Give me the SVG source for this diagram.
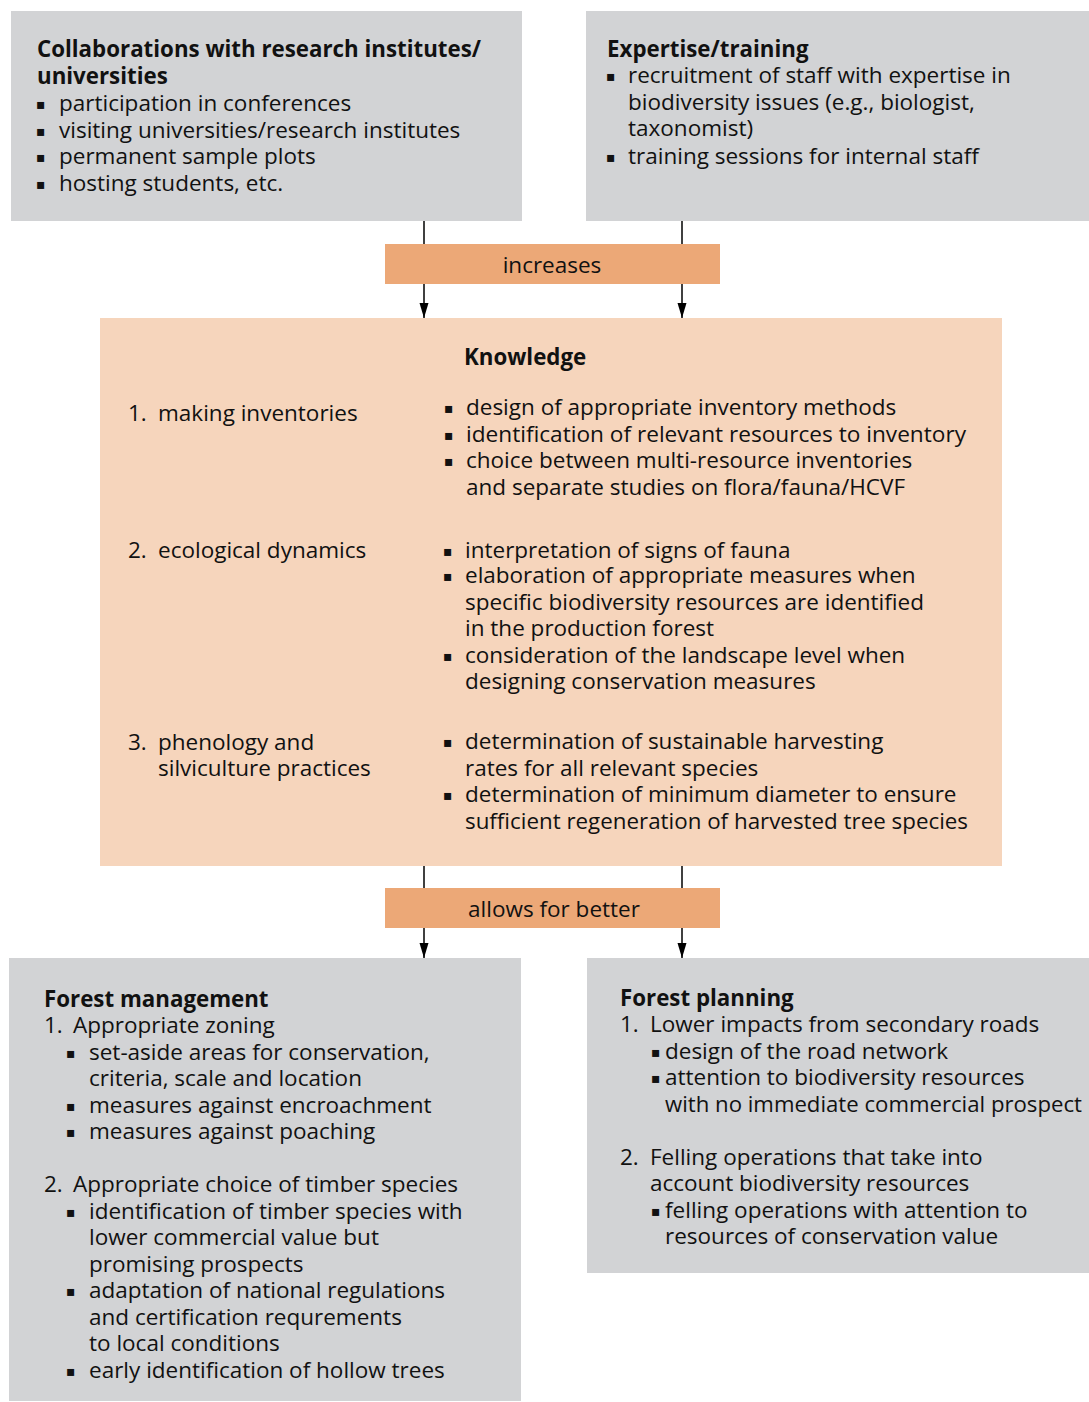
<svg xmlns="http://www.w3.org/2000/svg" width="1089" height="1402" viewBox="0 0 1089 1402">
<style>
.t{font-family:"Open Sans","Noto Sans","DejaVu Sans",sans-serif;font-size:22.5px;fill:#111}
.b{font-weight:bold;font-size:22.3px}
.bl{font-family:"DejaVu Sans",sans-serif;font-size:14px;fill:#111}
.gray{fill:#d2d3d5}
.know{fill:#f6d5bc}
.lab{fill:#eca877}
.c{stroke:#000;stroke-width:1.5;fill:none}
</style>
<defs>
<marker id="ah" viewBox="0 0 15 10" refX="15" refY="5" markerWidth="15" markerHeight="10" markerUnits="userSpaceOnUse" orient="auto">
<path d="M0,0.5 L15,5 L0,9.5 Z" fill="#000"/>
</marker>
</defs>

<g id="collab">
<rect class="gray" x="11" y="11" width="511" height="210"/>
<text class="t b" x="37" y="57">Collaborations with research institutes/</text>
<text class="t b" x="37" y="84">universities</text>
<text class="bl" x="36" y="109">▪</text><text class="t" x="59" y="111">participation in conferences</text>
<text class="bl" x="36" y="136">▪</text><text class="t" x="59" y="138">visiting universities/research institutes</text>
<text class="bl" x="36" y="162">▪</text><text class="t" x="59" y="164">permanent sample plots</text>
<text class="bl" x="36" y="189">▪</text><text class="t" x="59" y="191">hosting students, etc.</text>
</g>

<g id="expertise">
<rect class="gray" x="586" y="11" width="503" height="210"/>
<text class="t b" x="607" y="57">Expertise/training</text>
<text class="bl" x="606" y="81">▪</text><text class="t" x="628" y="83">recruitment of staff with expertise in</text>
<text class="t" x="628" y="110">biodiversity issues (e.g., biologist,</text>
<text class="t" x="628" y="136">taxonomist)</text>
<text class="bl" x="606" y="162">▪</text><text class="t" x="628" y="164">training sessions for internal staff</text>
</g>

<g id="connectors">
<line class="c" x1="424" y1="221" x2="424" y2="244"/>
<line class="c" x1="682" y1="221" x2="682" y2="244"/>
<line class="c" x1="424" y1="284" x2="424" y2="318" marker-end="url(#ah)"/>
<line class="c" x1="682" y1="284" x2="682" y2="318" marker-end="url(#ah)"/>
<line class="c" x1="424" y1="866" x2="424" y2="888"/>
<line class="c" x1="682" y1="866" x2="682" y2="888"/>
<line class="c" x1="424" y1="928" x2="424" y2="958" marker-end="url(#ah)"/>
<line class="c" x1="682" y1="928" x2="682" y2="958" marker-end="url(#ah)"/>
</g>

<g id="label-increases">
<rect class="lab" x="385" y="244" width="335" height="40"/>
<text class="t" x="552" y="273" text-anchor="middle">increases</text>
</g>

<g id="knowledge">
<rect class="know" x="100" y="318" width="902" height="548"/>
<text class="t b" x="464" y="365">Knowledge</text>
<text class="t" x="128" y="421">1.</text><text class="t" x="158" y="421">making inventories</text>
<text class="bl" x="444" y="413">▪</text><text class="t" x="466" y="415">design of appropriate inventory methods</text>
<text class="bl" x="444" y="440">▪</text><text class="t" x="466" y="442" textLength="500" lengthAdjust="spacingAndGlyphs">identification of relevant resources to inventory</text>
<text class="bl" x="444" y="466">▪</text><text class="t" x="466" y="468">choice between multi-resource inventories</text>
<text class="t" x="466" y="495">and separate studies on flora/fauna/HCVF</text>

<text class="t" x="128" y="558">2.</text><text class="t" x="158" y="558">ecological dynamics</text>
<text class="bl" x="443" y="556">▪</text><text class="t" x="465" y="558">interpretation of signs of fauna</text>
<text class="bl" x="443" y="581">▪</text><text class="t" x="465" y="583">elaboration of appropriate measures when</text>
<text class="t" x="465" y="610">specific biodiversity resources are identified</text>
<text class="t" x="465" y="636">in the production forest</text>
<text class="bl" x="443" y="661">▪</text><text class="t" x="465" y="663">consideration of the landscape level when</text>
<text class="t" x="465" y="689">designing conservation measures</text>

<text class="t" x="128" y="750">3.</text><text class="t" x="158" y="750">phenology and</text>
<text class="t" x="158" y="776">silviculture practices</text>
<text class="bl" x="443" y="747">▪</text><text class="t" x="465" y="749">determination of sustainable harvesting</text>
<text class="t" x="465" y="776">rates for all relevant species</text>
<text class="bl" x="443" y="800">▪</text><text class="t" x="465" y="802">determination of minimum diameter to ensure</text>
<text class="t" x="465" y="829" textLength="503" lengthAdjust="spacingAndGlyphs">sufficient regeneration of harvested tree species</text>
</g>

<g id="label-allows">
<rect class="lab" x="385" y="888" width="335" height="40"/>
<text class="t" x="554" y="917" text-anchor="middle">allows for better</text>
</g>

<g id="forest-management">
<rect class="gray" x="9" y="958" width="512" height="443"/>
<text class="t b" x="44" y="1007">Forest management</text>
<text class="t" x="44" y="1033">1.</text><text class="t" x="73" y="1033">Appropriate zoning</text>
<text class="bl" x="66" y="1058">▪</text><text class="t" x="89" y="1060">set-aside areas for conservation,</text>
<text class="t" x="89" y="1086">criteria, scale and location</text>
<text class="bl" x="66" y="1111">▪</text><text class="t" x="89" y="1113">measures against encroachment</text>
<text class="bl" x="66" y="1137">▪</text><text class="t" x="89" y="1139">measures against poaching</text>
<text class="t" x="44" y="1192">2.</text><text class="t" x="73" y="1192">Appropriate choice of timber species</text>
<text class="bl" x="66" y="1217">▪</text><text class="t" x="89" y="1219">identification of timber species with</text>
<text class="t" x="89" y="1245">lower commercial value but</text>
<text class="t" x="89" y="1272">promising prospects</text>
<text class="bl" x="66" y="1296">▪</text><text class="t" x="89" y="1298">adaptation of national regulations</text>
<text class="t" x="89" y="1325">and certification requrements</text>
<text class="t" x="89" y="1351">to local conditions</text>
<text class="bl" x="66" y="1376">▪</text><text class="t" x="89" y="1378">early identification of hollow trees</text>
</g>

<g id="forest-planning">
<rect class="gray" x="587" y="958" width="502" height="315"/>
<text class="t b" x="620" y="1006">Forest planning</text>
<text class="t" x="620" y="1032">1.</text><text class="t" x="650" y="1032">Lower impacts from secondary roads</text>
<text class="bl" x="651" y="1057">▪</text><text class="t" x="665" y="1059">design of the road network</text>
<text class="bl" x="651" y="1083">▪</text><text class="t" x="665" y="1085">attention to biodiversity resources</text>
<text class="t" x="665" y="1112" textLength="417" lengthAdjust="spacingAndGlyphs">with no immediate commercial prospect</text>
<text class="t" x="620" y="1165">2.</text><text class="t" x="650" y="1165">Felling operations that take into</text>
<text class="t" x="650" y="1191">account biodiversity resources</text>
<text class="bl" x="651" y="1216">▪</text><text class="t" x="665" y="1218">felling operations with attention to</text>
<text class="t" x="665" y="1244">resources of conservation value</text>
</g>
</svg>
